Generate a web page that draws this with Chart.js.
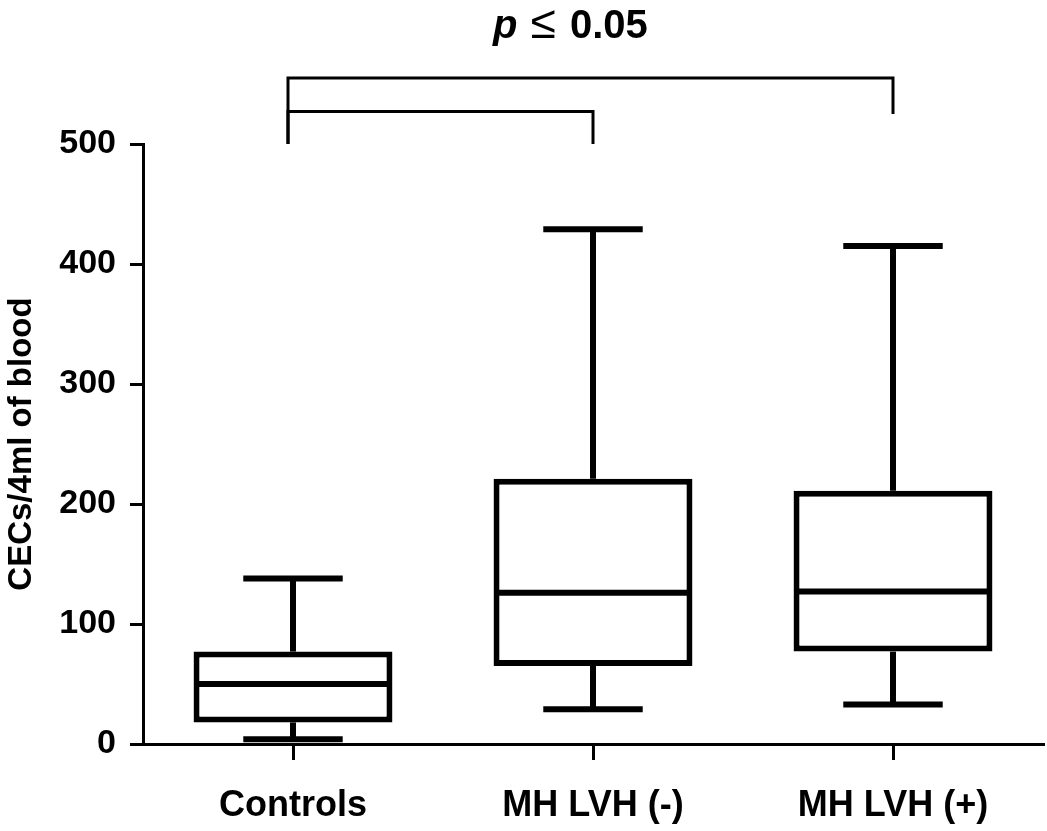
<!DOCTYPE html>
<html lang="en">
<head>
    <meta charset="UTF-8">
    <title>CECs per 4ml of blood</title>
    <script src="https://cdn.jsdelivr.net/npm/chart.js"></script>
    <style>
        body { margin: 0; background: #fff; }
        #wrap { position: relative; width: 1047px; height: 831px; }
        #ptitle {
            position: absolute; top: 2px; left: 493px;
            font: bold 40px "Liberation Sans", Arial, sans-serif; line-height: 40px;
            white-space: nowrap; color: #000;
        }
        #ptitle .le { font-weight: normal; font-size: 46px; margin: 0 3px 0 2px; }
    </style>
</head>
<body>
    <div id="wrap">
        <div id="ptitle"><i>p</i> <span class="le">&le;</span> 0.05</div>
        <canvas id="boxChart"></canvas>
    </div>

    <script>
        // Gruppen und Kennwerte (CECs/4ml)
        const categories = ['Controls', 'MH LVH (-)', 'MH LVH (+)'];
        const minVals = [4, 29, 33];
        const q1Vals = [18, 65, 77];
        const medianVals = [50, 126, 127];
        const q3Vals = [77, 221, 211];
        const maxVals = [138, 429, 415];
        const yTicks = [0, 100, 200, 300, 400, 500];

        // Klammern für die Signifikanz: [von, bis, Höhe, Ende links, Ende rechts]
        const brackets = [
            [0, 2, 555, 500, 525],
            [0, 1, 527, 500, 500]
        ];

        const font = 'Liberation Sans, Arial, sans-serif';

        function line(ctx, x1, y1, x2, y2) {
            ctx.beginPath();
            ctx.moveTo(x1, y1);
            ctx.lineTo(x2, y2);
            ctx.stroke();
        }

        // Whisker, Median und Klammern zeichnen
        const boxPlotLines = {
            id: 'boxPlotLines',
            beforeDatasetsDraw(chart) {
                const ctx = chart.ctx, y = chart.scales.y;
                const meta = chart.getDatasetMeta(0);
                ctx.save();
                ctx.strokeStyle = '#000';
                meta.data.forEach((bar, i) => {
                    const cx = bar.x, capHalf = bar.width / 4;
                    ctx.lineWidth = 6;
                    line(ctx, cx, y.getPixelForValue(q3Vals[i]), cx, y.getPixelForValue(maxVals[i]));
                    line(ctx, cx, y.getPixelForValue(q1Vals[i]), cx, y.getPixelForValue(minVals[i]));
                    line(ctx, cx - capHalf, y.getPixelForValue(maxVals[i]), cx + capHalf, y.getPixelForValue(maxVals[i]));
                    line(ctx, cx - capHalf, y.getPixelForValue(minVals[i]), cx + capHalf, y.getPixelForValue(minVals[i]));
                });
                ctx.restore();
            },
            afterDatasetsDraw(chart) {
                const ctx = chart.ctx, y = chart.scales.y;
                const meta = chart.getDatasetMeta(0);
                ctx.save();
                ctx.strokeStyle = '#000';
                ctx.lineWidth = 6;
                meta.data.forEach((bar, i) => {
                    const half = bar.width / 2;
                    const my = y.getPixelForValue(medianVals[i]);
                    line(ctx, bar.x - half + 2, my, bar.x + half - 2, my);
                });
                ctx.restore();
            },
            afterDraw(chart) {
                const ctx = chart.ctx, x = chart.scales.x, y = chart.scales.y;
                ctx.save();
                ctx.strokeStyle = '#000';
                ctx.lineWidth = 3;
                brackets.forEach(b => {
                    const x1 = x.getPixelForValue(b[0]) - 5;
                    const x2 = x.getPixelForValue(b[1]);
                    ctx.beginPath();
                    ctx.moveTo(x1, y.getPixelForValue(b[3]));
                    ctx.lineTo(x1, y.getPixelForValue(b[2]));
                    ctx.lineTo(x2, y.getPixelForValue(b[2]));
                    ctx.lineTo(x2, y.getPixelForValue(b[4]));
                    ctx.stroke();
                });
                ctx.restore();
            }
        };

        const ctx = document.getElementById('boxChart').getContext('2d');
        const chart = new Chart(ctx, {
            type: 'bar',
            data: {
                labels: categories,
                datasets: [{
                    data: categories.map((c, i) => [q1Vals[i], q3Vals[i]]),
                    backgroundColor: '#fff',
                    borderColor: '#000',
                    borderWidth: 6,
                    borderSkipped: false,
                    categoryPercentage: 1,
                    barPercentage: 0.663
                }]
            },
            options: {
                responsive: true,
                maintainAspectRatio: false,
                animation: false,
                layout: { padding: { top: 144, right: 4, left: 0, bottom: 0 } },
                plugins: {
                    legend: { display: false },
                    tooltip: { enabled: false }
                },
                scales: {
                    x: {
                        offset: true,
                        grid: { offset: false, drawOnChartArea: false, drawTicks: true, tickLength: 16, color: '#000', lineWidth: 3 },
                        border: { display: true, color: '#000', width: 3 },
                        ticks: { color: '#000', padding: 24, font: { family: font, size: 36, weight: 'bold' } },
                        afterFit(s) { s.height = 87; }
                    },
                    y: {
                        min: 0,
                        max: 500,
                        afterBuildTicks(s) { s.ticks = yTicks.map(v => ({ value: v })); },
                        grid: { drawOnChartArea: false, drawTicks: true, tickLength: 13, color: '#000', lineWidth: 3 },
                        border: { display: true, color: '#000', width: 3 },
                        ticks: { color: '#000', padding: 14, font: { family: font, size: 34, weight: 'bold' } },
                        title: {
                            display: true,
                            text: 'CECs/4ml of blood',
                            color: '#000',
                            padding: { top: 2, bottom: 0 },
                            font: { family: font, size: 33, weight: 'bold' }
                        },
                        afterFit(s) { s.width = 143; }
                    }
                }
            },
            plugins: [boxPlotLines]
        });
    </script>
</body>
</html>
